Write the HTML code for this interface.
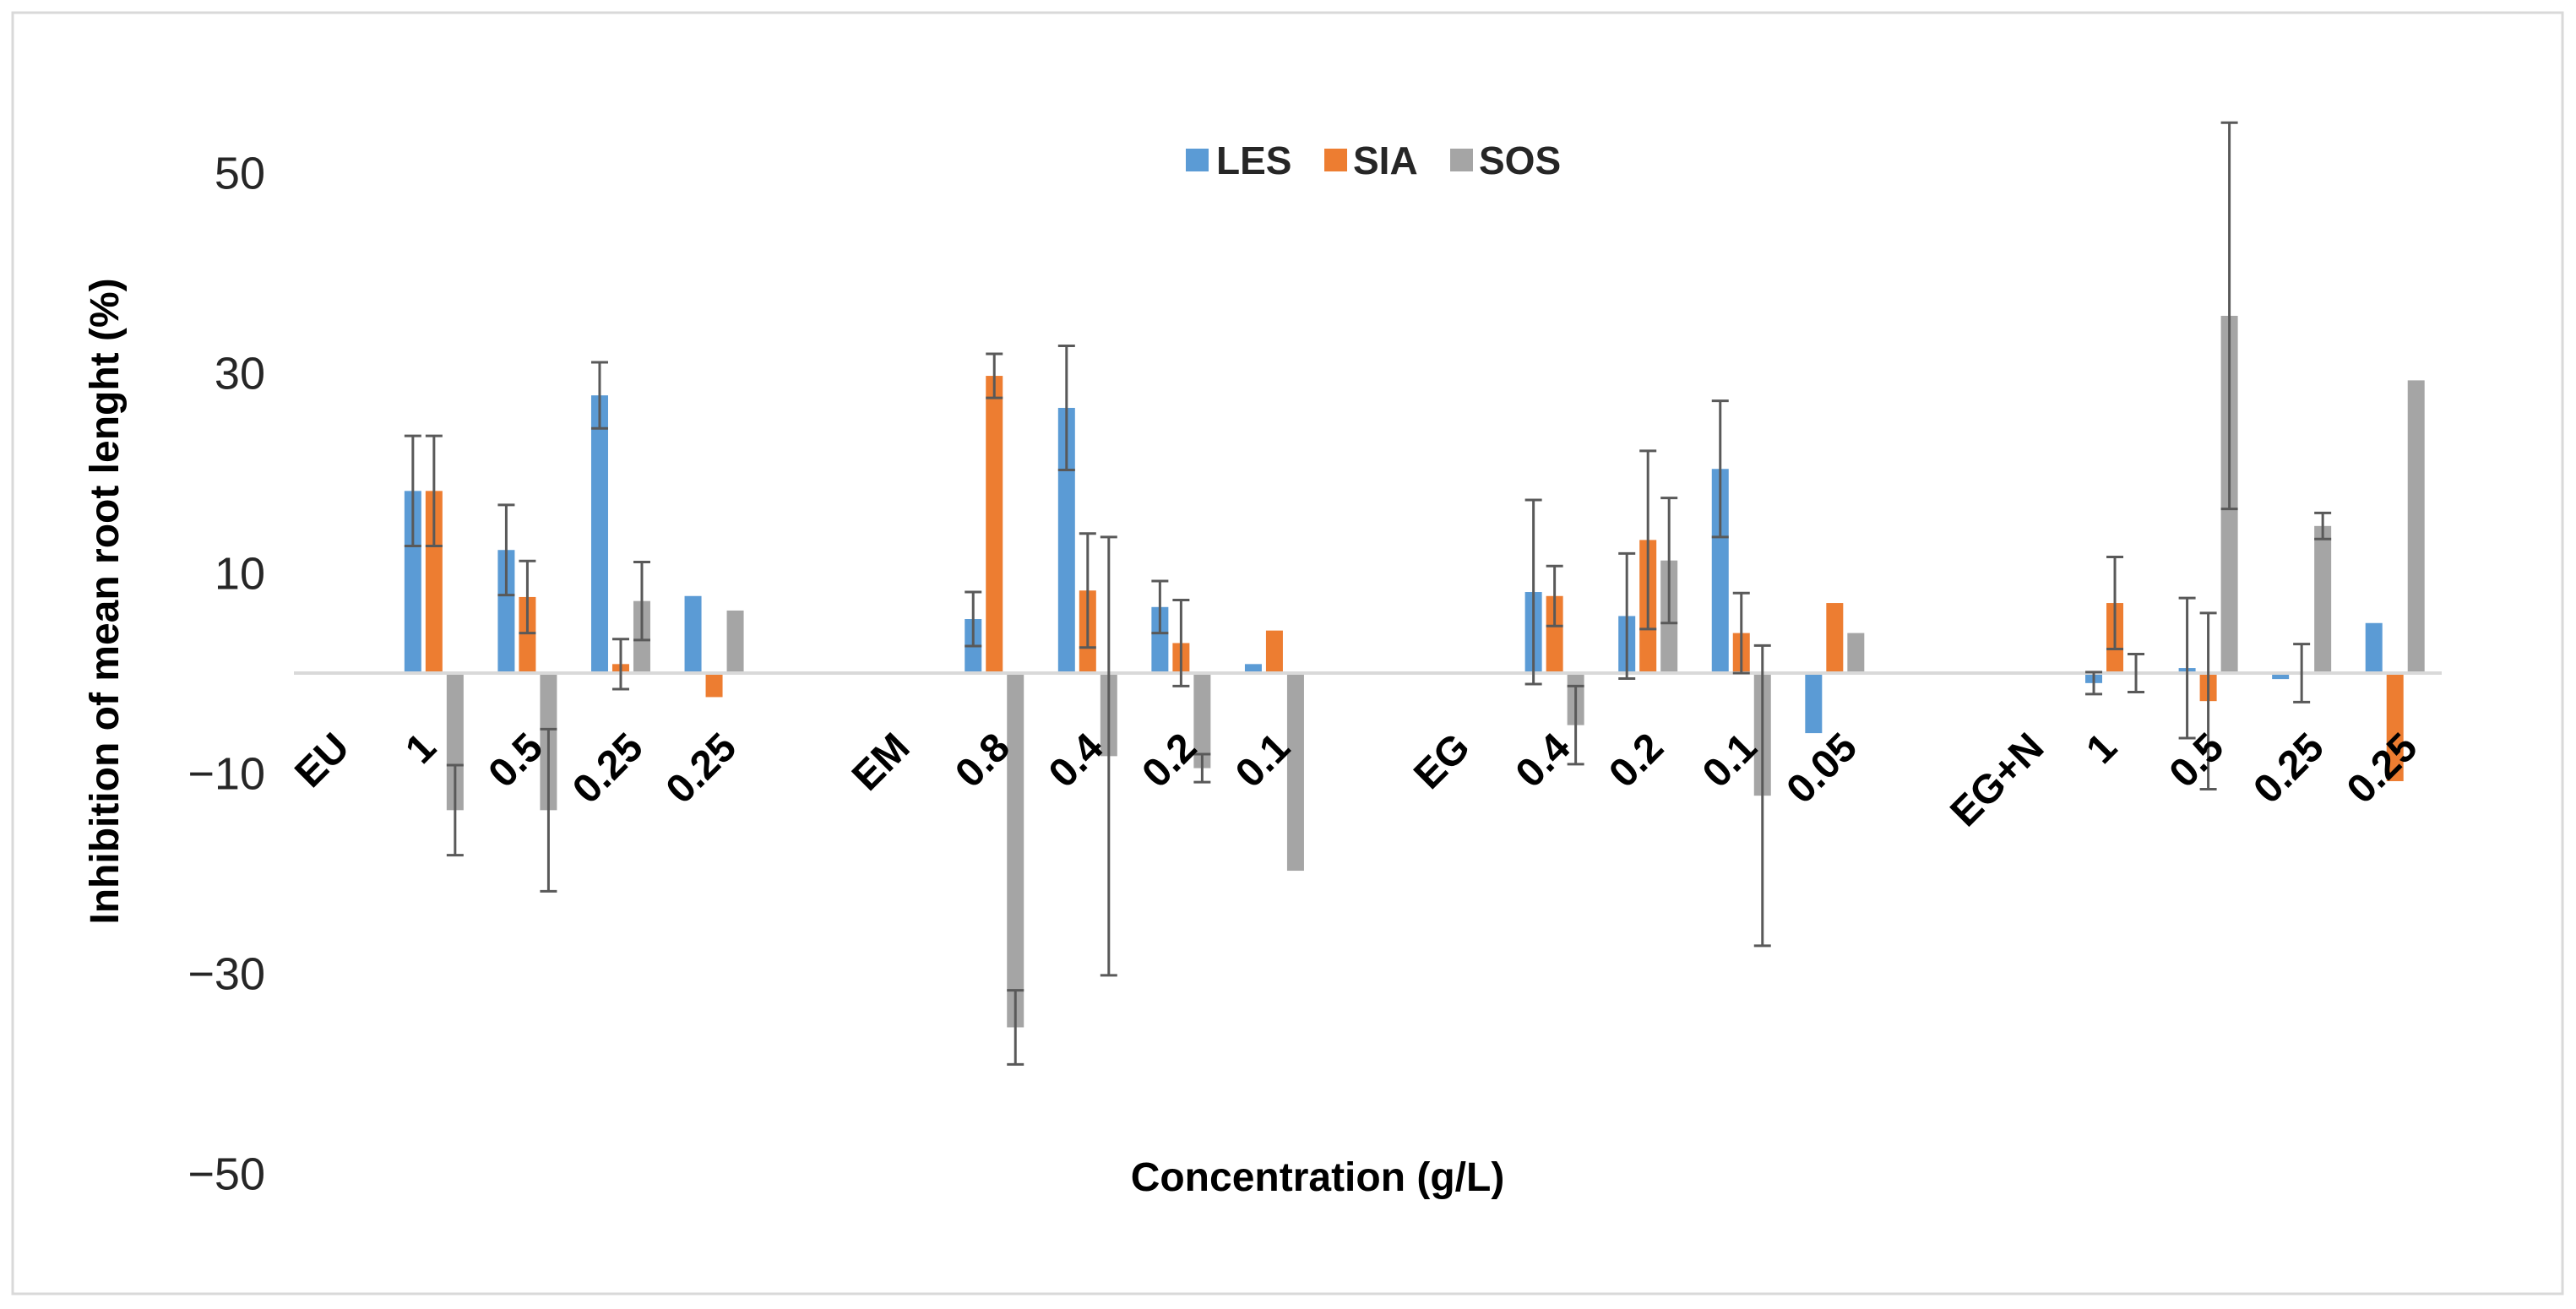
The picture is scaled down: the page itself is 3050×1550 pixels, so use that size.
<!DOCTYPE html>
<html><head><meta charset="utf-8"><style>
html,body{margin:0;padding:0;background:#fff;}
svg{display:block;font-family:"Liberation Sans",sans-serif;}
</style></head><body>
<svg id="chart" width="3050" height="1550" viewBox="0 0 3050 1550" xmlns="http://www.w3.org/2000/svg">
<rect x="15" y="15" width="3019" height="1517" fill="#fff" stroke="#d9d9d9" stroke-width="3"/>
<g id="yticks"></g>
<g id="bars"></g>
<line id="zeroline" stroke="#d9d9d9" stroke-width="4"/>
<g id="errs"></g>
<g id="xlabels"></g>
<text transform="translate(140,712) rotate(-90)" text-anchor="middle" font-weight="bold" font-size="48" fill="#000">Inhibition of mean root lenght (%)</text>
<text x="1560" y="1410" text-anchor="middle" font-weight="bold" font-size="48" fill="#000">Concentration (g/L)</text>
<g>
<rect x="1404" y="176" width="27" height="27" fill="#5B9BD5"/>
<text x="1440" y="206" font-size="46" font-weight="bold" fill="#262626">LES</text>
<rect x="1568" y="176" width="27" height="27" fill="#ED7D31"/>
<text x="1602" y="206" font-size="46" font-weight="bold" fill="#262626">SIA</text>
<rect x="1717" y="176" width="27" height="27" fill="#A5A5A5"/>
<text x="1751" y="206" font-size="46" font-weight="bold" fill="#262626">SOS</text>
</g>
</svg>
<script>
const categories = ["EU","1","0.5","0.25","0.25","","EM","0.8","0.4","0.2","0.1","","EG","0.4","0.2","0.1","0.05","","EG+N","1","0.5","0.25","0.25"];
const lesValues = [null,18.2,12.3,27.75,7.7,null,null,5.4,26.5,6.6,0.9,null,null,8.1,5.7,20.4,-6,null,null,-1.0,0.5,-0.6,5.0];
const lesErrors = [null,5.5,4.5,3.3,null,null,null,2.7,6.2,2.6,null,null,null,9.2,6.25,6.8,null,null,null,1.1,7,null,null];
const siaValues = [null,18.2,7.6,0.9,-2.4,null,null,29.7,8.25,3.0,4.25,null,null,7.7,13.3,4.0,7.0,null,null,7.0,-2.8,0,-10.8];
const siaErrors = [null,5.5,3.6,2.5,null,null,null,2.2,5.7,4.3,null,null,null,3,8.9,4,null,null,null,4.6,8.8,2.9,null];
const sosValues = [null,-13.7,-13.7,7.2,6.25,null,null,-35.4,-8.3,-9.5,-19.75,null,null,-5.2,11.25,-12.25,4.0,null,null,0,35.7,14.7,29.25];
const sosErrors = [null,4.5,8.1,3.9,null,null,null,3.7,21.9,1.4,null,null,null,3.9,6.25,15,null,null,null,1.9,19.3,1.3,null];
const yTicks = [50,30,10,-10,-30,-50];

const NS="http://www.w3.org/2000/svg";
const x0=348, x1=2891, zeroY=797, pxPerUnit=11.85;
const slot=(x1-x0)/categories.length;
function yScale(v){return zeroY - v*pxPerUnit;}
function xCenter(i){return x0+(i+0.5)*slot;}
function mk(tag,attrs,parent){const e=document.createElementNS(NS,tag);for(const k in attrs)e.setAttribute(k,attrs[k]);parent.appendChild(e);return e;}

const yt=document.getElementById('yticks');
yTicks.forEach(t=>{
  const e=mk('text',{x:314,y:yScale(t)+19,'text-anchor':'end','font-size':54,fill:'#262626'},yt);
  
  
  e.textContent=(t<0?'\u2212'+Math.abs(t):String(t));
});
const zl=document.getElementById('zeroline');
zl.setAttribute('x1',x0);zl.setAttribute('x2',x1);zl.setAttribute('y1',zeroY);zl.setAttribute('y2',zeroY);

const series=[{n:'les',v:lesValues,e:lesErrors,c:'#5B9BD5'},{n:'sia',v:siaValues,e:siaErrors,c:'#ED7D31'},{n:'sos',v:sosValues,e:sosErrors,c:'#A5A5A5'}];
const bw=20, step=25;
const bg=document.getElementById('bars'), eg=document.getElementById('errs');
series.forEach((s,si)=>{
  s.v.forEach((v,i)=>{
    if(v===null)return;
    const cx=xCenter(i)+(si-1)*step;
    const ya=yScale(Math.max(v,0)), yb=yScale(Math.min(v,0));
    const r=mk('rect',{x:cx-bw/2,y:ya,width:bw,height:Math.max(yb-ya,0.5),fill:s.c},bg);
    
    
    const er=s.e[i];
    if(er!==null&&er!==undefined){
      const g=mk('g',{stroke:'#595959','stroke-width':3},eg);
      
      
      const yt1=yScale(v+er), yt2=yScale(v-er);
      mk('line',{x1:cx,x2:cx,y1:yt1,y2:yt2},g);
      mk('line',{x1:cx-10,x2:cx+10,y1:yt1,y2:yt1},g);
      mk('line',{x1:cx-10,x2:cx+10,y1:yt2,y2:yt2},g);
    }
  });
});
const xl=document.getElementById('xlabels');
categories.forEach((c,i)=>{
  if(!c)return;
  const x=xCenter(i)+5+ (c.length-1)*8, y=888;
  const t=mk('text',{x:x,y:y,transform:`rotate(-45 ${x} ${y})`,'text-anchor':'end','font-size':48,'font-weight':'bold',fill:'#000'},xl);
  
  
  t.textContent=c;
});
</script>
</body></html>
